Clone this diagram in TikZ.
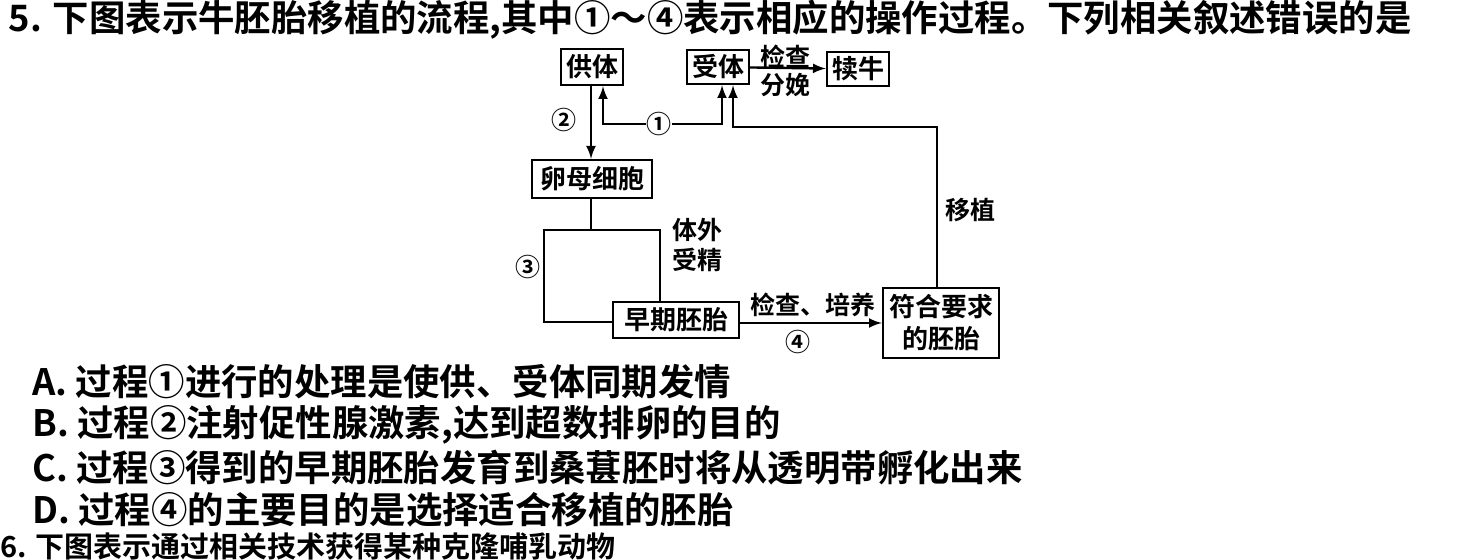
\documentclass[tikz,border=0pt]{standalone}
\usepackage{fontspec}
\setmainfont{Noto Sans CJK SC}[BoldFont={* Bold}]
\newfontfamily\cjk{Noto Sans CJK SC Bold}
\usetikzlibrary{positioning}
\tikzset{
  box/.style = {draw, line width=1.2pt, inner sep=1pt, font=\cjk\fontsize{13}{15}\selectfont},
  lbl/.style = {font=\cjk\fontsize{12.5}{14}\selectfont, inner sep=0pt},
  line/.style = {line width=1.2pt},
  txt/.style = {font=\cjk\fontsize{18.2}{20}\selectfont, inner sep=0pt}
}

\begin{document}
\begin{tikzpicture}[x=0.5pt, y=-0.5pt, >=latex]
        \useasboundingbox (0,0) rectangle (1465,560);
        \node[txt, anchor=east] (Q) at (1412,20) {5. 下图表示牛胚胎移植的流程,其中①～④表示相应的操作过程。下列相关叙述错误的是};

        \node[box, minimum width=31pt, minimum height=18pt] (gt) at (592,67) {供体};
        \node[box, minimum width=31pt, minimum height=17pt] (st) at (718,67) {受体};
        \node[box, minimum width=31pt, minimum height=17pt] (dn) at (858,69) {犊牛};
        \node[box, minimum width=60pt, minimum height=19pt] (lm) at (592,179) {卵母细胞};
        \node[box, minimum width=63pt, minimum height=18pt] (zq) at (676,320) {早期胚胎};
        \node[box, minimum width=58pt, minimum height=35pt, align=center, font=\cjk\fontsize{13}{16}\selectfont] (fh) at (941,323) {符合要求\\的胚胎};

        \node[lbl] (n1) at (659,124) {①};
        \node[lbl] (n2) at (564,120) {②};
        \node[lbl] (n3) at (528,267) {③};
        \node[lbl] (n4) at (798,342) {④};
        \node[lbl] (jc) at (785,57) {检查};
        \node[lbl] (fm) at (785,85) {分娩};
        \node[lbl, align=center, font=\cjk\fontsize{12.5}{15}\selectfont] (tw) at (697,245) {体外\\受精};
        \node[lbl] (py) at (813,305) {检查、培养};
        \node[lbl] (yz) at (970,210) {移植};

        \draw[line, ->] (st) -- (dn);
        \draw[line, ->] (n1.west) -| (gt.south -| 603,0);
        \draw[line, ->] (n1.east) -| (st.south -| 722,0);
        \draw[line, ->] (fh.north -| 937,0) |- (733,127) -- (st.south -| 733,0);
        \draw[line, ->] (gt.south -| 591,0) -- (lm.north -| 591,0);
        \draw[line] (lm.south -| 591,0) -- (591,230) -| (544,322) -- (zq.west |- 544,322);
        \draw[line] (591,230) -| (zq.north -| 660,0);
        \draw[line, ->] (zq.east |- 0,323) -- (fh.west |- 0,323);

        \node[txt, anchor=west] (A) at (32,382) {A. 过程①进行的处理是使供、受体同期发情};
        \node[txt, anchor=west] (B) at (32,425) {B. 过程②注射促性腺激素,达到超数排卵的目的};
        \node[txt, anchor=west] (C) at (32,468) {C. 过程③得到的早期胚胎发育到桑葚胚时将从透明带孵化出来};
        \node[txt, anchor=west] (D) at (32,510) {D. 过程④的主要目的是选择适合移植的胚胎};
        \node[txt, anchor=west, font=\cjk\fontsize{14.5}{16}\selectfont] (E) at (0,546) {6. 下图表示通过相关技术获得某种克隆哺乳动物};
    \end{tikzpicture}
\end{document}
